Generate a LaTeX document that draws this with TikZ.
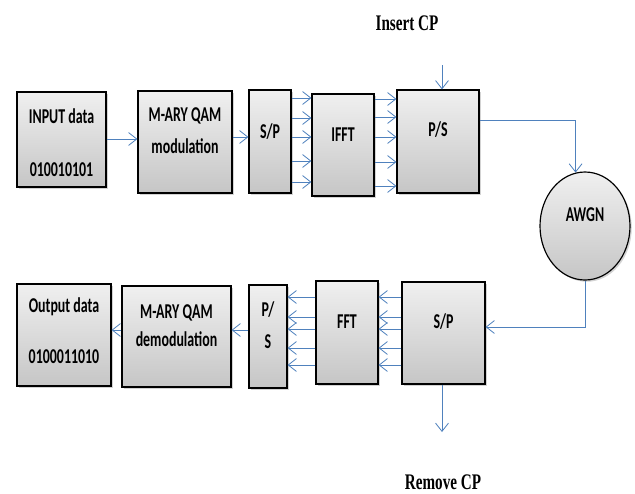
\documentclass[tikz,border=0pt]{standalone}
\usepackage{fontspec}
\setmainfont{Carlito}
\newfontfamily\boxfont{Carlito}[FakeStretch=0.66]
\newfontfamily\cpfont{Liberation Serif}[FakeStretch=0.68]
\usepackage{tikz}
\usetikzlibrary{arrows.meta,shadows,shapes.geometric}
\definecolor{linkblue}{RGB}{79,129,189}
\def\pxu{0.03cm}
% box text, raised a little above the box centre
\newcommand{\lifted}[2]{\raisebox{#1}[\height][\depth]{\begin{tabular}{@{}c@{}}#2\end{tabular}}}
\tikzset{
  blk/.style={
    draw=black, line width=1pt,
    top color=gray!12, bottom color=gray!45,
    drop shadow={shadow xshift=1.5pt, shadow yshift=-1.5pt, opacity=0.35},
    font=\boxfont\fontsize{18}{21.6}\selectfont\bfseries,
    inner sep=0pt
  },
  link/.style={
    draw=linkblue, line width=0.7pt,
    -{Straight Barb[length=7pt,width=11pt]}
  },
  cplabel/.style={font=\cpfont\fontsize{19}{22}\selectfont\bfseries}
}

\begin{document}
\begin{tikzpicture}[x=0.03cm, y=-0.03cm]
    \useasboundingbox (0,0) rectangle (635,493);
  % Transmitter row
  \node[blk, minimum width=89*\pxu, minimum height=95*\pxu] (inp) at (61.5,139.5) {\lifted{-4.5pt}{INPUT data\\[23.4pt]010010101}};
  \node[blk, minimum width=94*\pxu, minimum height=102*\pxu] (mod) at (185,142) {\lifted{8.4pt}{M-ARY QAM\\[5.4pt]modulation}};
  \node[blk, minimum width=42*\pxu, minimum height=103*\pxu] (sp1) at (270,141.5) {\lifted{6.6pt}{S/P}};
  \node[blk, minimum width=62*\pxu, minimum height=102*\pxu] (ifft) at (343,145) {\lifted{7pt}{IFFT}};
  \node[blk, minimum width=82*\pxu, minimum height=103*\pxu] (ps1) at (438,141.5) {\lifted{8.3pt}{P/S}};

  % Channel
  \node[blk, ellipse, minimum width=90*\pxu, minimum height=108*\pxu] (awgn) at (585,226) {\lifted{7.9pt}{AWGN}};

  % Receiver row
  \node[blk, minimum width=83*\pxu, minimum height=102*\pxu] (sp2) at (443.5,333) {\lifted{7.9pt}{S/P}};
  \node[blk, minimum width=62*\pxu, minimum height=103*\pxu] (fft) at (347,332.5) {\lifted{7.5pt}{FFT}};
  \node[blk, minimum width=38*\pxu, minimum height=103*\pxu] (ps2) at (268,336.5) {\lifted{8pt}{P/\\[5.7pt]S}};
  \node[blk, minimum width=109*\pxu, minimum height=101*\pxu] (demod) at (176.5,336.5) {\lifted{8pt}{M-ARY QAM\\[2.4pt]demodulation}};
  \node[blk, minimum width=94*\pxu, minimum height=102*\pxu] (outp) at (64,335) {\lifted{1.5pt}{Output data\\[21.9pt]0100011010}};

  % Cyclic prefix labels
  \node[cplabel] (inscp) at (407,23) {Insert CP};
  \node[cplabel] (remcp) at (443,482) {Remove CP};
  \coordinate (cpin) at (442,65);
  \coordinate (cpout) at (442,432);

  % Transmitter links
  \draw[link] (inp.east |- 0,139) -- (mod.west |- 0,139);
  \draw[link] (mod.east |- 0,137) -- (sp1.west |- 0,137);
  \foreach \y in {98,118,137,161,182}
    \draw[link] (sp1.east |- 0,\y) -- (ifft.west |- 0,\y);
  \foreach \y in {99,117,137,162,186}
    \draw[link] (ifft.east |- 0,\y) -- (ps1.west |- 0,\y);
  \draw[link] (cpin) -- (cpin |- ps1.north);
  \draw[link] (ps1.east |- 0,120) -| (awgn.100);

  % Receiver links
  \draw[link] (awgn.south) |- (sp2.east |- 0,327);
  \draw[link] (sp2.south -| cpout) -- (cpout);
  \foreach \y in {297,317,329,348,365}
    \draw[link] (sp2.west |- 0,\y) -- (fft.east |- 0,\y);
  \foreach \y in {297,317,329,348,365}
    \draw[link] (fft.west |- 0,\y) -- (ps2.east |- 0,\y);
  \draw[link] (ps2.west |- 0,330) -- (demod.east |- 0,330);
  \draw[link] (demod.west |- 0,330) -- (outp.east |- 0,330);

\end{tikzpicture}
\end{document}
